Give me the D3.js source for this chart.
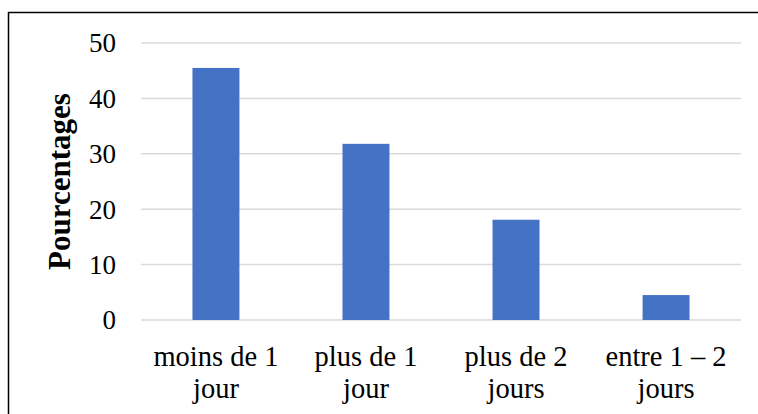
<!DOCTYPE html>
<html>
<head>
<meta charset="utf-8">
<script src="https://cdn.jsdelivr.net/npm/d3@7"></script>
<style>
  body { margin: 0; background: #fff; }
  svg text { font-family: "Liberation Serif", "Times New Roman", serif; fill: #000; }
</style>
</head>
<body>
<div id="chart"></div>
<script>
// data
var categories = [["moins de 1", "jour"], ["plus de 1", "jour"], ["plus de 2", "jours"], ["entre 1 \u2013 2", "jours"]]
var values = [45.5, 31.8, 18.1, 4.5]
var yTicks = [0, 10, 20, 30, 40, 50]
var yTitle = "Pourcentages"

var W = 758, H = 414
var margin = {top: 43, right: 17, bottom: 94, left: 141}
var width = W - margin.left - margin.right
var height = H - margin.top - margin.bottom

var svg = d3.select("#chart").append("svg")
  .attr("width", W)
  .attr("height", H)

// outer frame (bottom and right edges are cut off in the reference)
svg.append("rect")
  .attr("x", 8.5).attr("y", 12.5)
  .attr("width", 752).attr("height", 420)
  .attr("fill", "none")
  .attr("stroke", "#000")
  .attr("stroke-width", 1.5)

var g = svg.append("g")
  .attr("transform", "translate(" + margin.left + "," + margin.top + ")")

var x = d3.scaleBand()
  .domain(d3.range(categories.length))
  .range([0, width])
  .paddingInner(0.687)
  .paddingOuter(0.343)

var y = d3.scaleLinear().domain([0, 50]).range([height, 0])

// gridlines
g.selectAll(".grid")
  .data(yTicks)
  .enter().append("line")
  .attr("class", "grid")
  .attr("x1", 0).attr("x2", width)
  .attr("y1", function(d) { return y(d) }).attr("y2", function(d) { return y(d) })
  .attr("stroke", "#d9d9d9")
  .attr("stroke-width", 1.5)

// y axis labels
var yAxis = d3.axisLeft(y).tickValues(yTicks).tickSize(0).tickPadding(25)
var ya = g.append("g").call(yAxis)
ya.select(".domain").remove()
ya.selectAll("text")
  .style("font-family", '"Liberation Serif", "Times New Roman", serif')
  .attr("font-size", 27)
  .attr("dy", "0.33em")
  .attr("fill", "#000")

// bars
g.selectAll(".bar")
  .data(values)
  .enter().append("rect")
  .attr("class", "bar")
  .attr("x", function(d, i) { return x(i) })
  .attr("y", function(d) { return y(d) })
  .attr("width", x.bandwidth())
  .attr("height", function(d) { return height - y(d) })
  .attr("fill", "#4472c4")

// x labels, two lines each
var xl = g.selectAll(".xlab")
  .data(categories)
  .enter().append("text")
  .attr("class", "xlab")
  .attr("font-size", 28.5)
  .attr("text-anchor", "middle")
  .attr("transform", function(d, i) { return "translate(" + (x(i) + x.bandwidth() / 2) + "," + (height + 46) + ")" })

xl.selectAll("tspan")
  .data(function(d) { return d })
  .enter().append("tspan")
  .attr("x", 0)
  .attr("y", function(d, i) { return i * 32 })
  .text(function(d) { return d })

// y title
svg.append("text")
  .attr("transform", "translate(70," + (margin.top + height / 2) + ") rotate(-90)")
  .attr("text-anchor", "middle")
  .attr("font-size", 31)
  .attr("font-weight", "bold")
  .text(yTitle)
</script>
</body>
</html>
